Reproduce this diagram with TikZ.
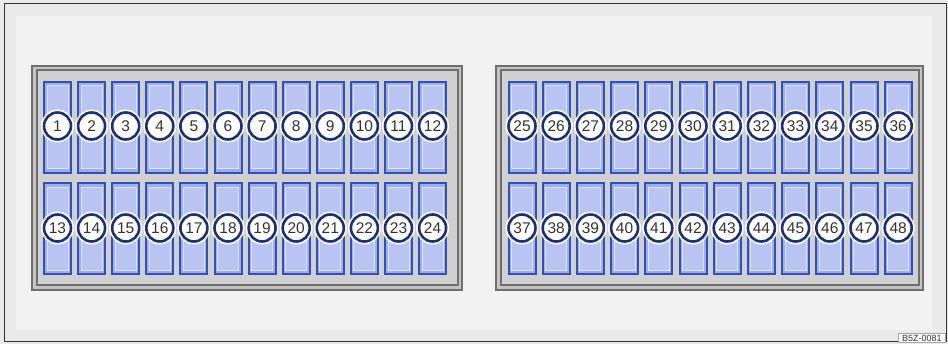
\documentclass[tikz,border=0pt]{standalone}
\usepackage{fontspec}
\setmainfont{Liberation Sans}
\definecolor{slotblue}{HTML}{2F50C0}
\definecolor{slotfill}{HTML}{9DAEEC}
\definecolor{slotlight}{HTML}{BAC4F2}
\definecolor{navy}{HTML}{1B2F7F}
\definecolor{numgray}{HTML}{333333}
\definecolor{panelfill}{HTML}{D0D0D0}
\definecolor{panelgap}{HTML}{C4C4C4}
\definecolor{panelline}{HTML}{6E6E6E}
\definecolor{bgouter}{HTML}{EAEAEA}
\definecolor{bginner}{HTML}{F2F2F2}
\begin{document}
\begin{tikzpicture}[x=1pt,y=-1pt,
  slotbox/.style={draw=slotblue, line width=2pt, fill=slotfill, minimum width=27pt, minimum height=91pt, inner sep=0pt},
  slotinner/.style={draw=white!55!slotlight, line width=1pt, fill=slotlight},
  numcirc/.style={circle, draw=navy, line width=2.6pt, fill=white, minimum size=27pt, inner sep=0pt,
    font=\fontsize{15.5}{16}\selectfont, text=numgray, preaction={draw=white, line width=6pt}},
  panelbox/.style={draw=panelline, line width=2pt, fill=panelgap},
  panelinner/.style={draw=panelline, line width=2pt, fill=panelfill},
  tagbox/.style={draw=gray!70, line width=0.6pt, fill=white, font=\fontsize{9}{10}\selectfont, text=numgray, inner xsep=4pt, inner ysep=1.5pt}
]
\useasboundingbox (0,0) rectangle (948,344);
% background
\fill[bgouter] (0,0) rectangle (948,344);
\fill[bginner] (16,16) rectangle (932,330);
\draw[black!80, line width=1pt] (4,4) rectangle (946,342);
% panels
\draw[panelbox] (32,66) rectangle (462,290);
\draw[panelinner] (36.5,70.5) rectangle (457.5,285.5);
\draw[panelbox] (496,66) rectangle (923,290);
\draw[panelinner] (500.5,70.5) rectangle (918.5,285.5);
% left block slots
\foreach \i in {1,...,12}{
  \pgfmathsetmacro{\xx}{57.5+34.1*(\i-1)}
  \pgfmathtruncatemacro{\j}{\i+12}
  \node[slotbox] (s\i) at (\xx,127.5) {};
  \draw[slotinner] ([shift={(4,5)}]s\i.north west) rectangle ([shift={(-4,-5)}]s\i.south east);
  \node[slotbox] (s\j) at (\xx,229) {};
  \draw[slotinner] ([shift={(4,5)}]s\j.north west) rectangle ([shift={(-4,-5)}]s\j.south east);
  \node[numcirc] (c\i) at (\xx,126) {\i};
  \node[numcirc] (c\j) at (\xx,228) {\j};
}
% right block slots
\foreach \i in {25,...,36}{
  \pgfmathsetmacro{\xx}{522+34.2*(\i-25)}
  \pgfmathtruncatemacro{\j}{\i+12}
  \node[slotbox] (s\i) at (\xx,127.5) {};
  \draw[slotinner] ([shift={(4,5)}]s\i.north west) rectangle ([shift={(-4,-5)}]s\i.south east);
  \node[slotbox] (s\j) at (\xx,229) {};
  \draw[slotinner] ([shift={(4,5)}]s\j.north west) rectangle ([shift={(-4,-5)}]s\j.south east);
  \node[numcirc] (c\i) at (\xx,126) {\i};
  \node[numcirc] (c\j) at (\xx,228) {\j};
}
% tag
\node[tagbox, anchor=south east] (tag) at (946,343) {B5Z-0081};
\end{tikzpicture}
\end{document}
